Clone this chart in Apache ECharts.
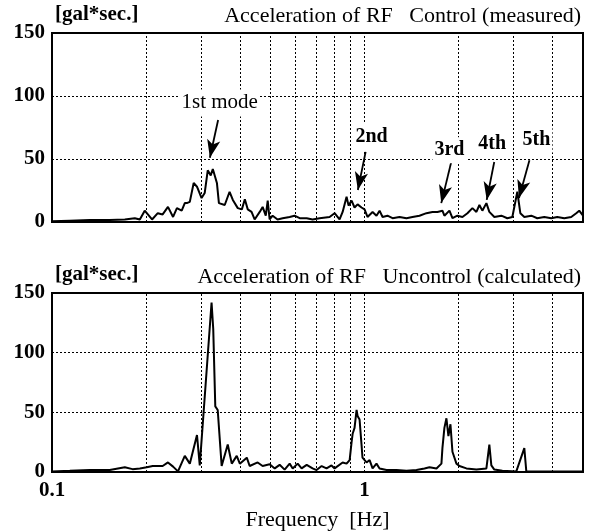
<!DOCTYPE html>
<html><head><meta charset="utf-8">
<script src="https://cdn.jsdelivr.net/npm/echarts/dist/echarts.min.js"></script>
<style>html,body{margin:0;padding:0;background:#fff}#c{width:589px;height:532px}</style>
</head><body><div id="c"></div>
<script>
// ---- data ----
const freqTop = [
  0.100,0.114,0.132,0.153,0.171,0.184,0.191,0.198,0.209,0.218,
  0.226,0.235,0.244,0.251,0.260,0.266,0.270,0.276,0.284,0.291,
  0.301,0.308,0.315,0.322,0.327,0.337,0.342,0.357,0.370,0.379,
  0.393,0.405,0.414,0.423,0.435,0.445,0.462,0.472,0.483,0.490,
  0.497,0.508,0.527,0.547,0.576,0.597,0.620,0.653,0.682,0.718,
  0.773,0.802,0.832,0.851,0.876,0.889,0.909,0.929,0.950,0.978,
  1.000,1.022,1.061,1.092,1.117,1.142,1.184,1.229,1.294,1.362,
  1.423,1.499,1.578,1.649,1.711,1.775,1.801,1.869,1.911,1.982,
  2.057,2.134,2.214,2.280,2.331,2.382,2.454,2.508,2.602,2.740,
  2.863,2.971,3.082,3.151,3.245,3.416,3.570,3.759,3.958,4.136,
  4.355,4.585,4.757,4.863,5.000
];
const accTop = [
  0.5,1,1.5,1.5,2,3,2,9,2,7,
  6,12,4,11,9,15,15,16,31,28,
  19,23,41,37,42,31,15,13.5,24,17.5,
  11,10,18,10,8,2,8,12,5,17,
  2,5,2,3,4,5,3,3,2,3,
  4,7,2,8,20,13,17,11.5,14,11.5,
  10,4,8,5,9,4,5,3,4,3,
  4,5,7,8,8,9,5,9,3,5,
  4,7,11,8,13.5,9,15,8,4,5,
  3,4,24,7,4,5,3,4,3,4,
  3,4,7,9,5
];
const freqBottom = [
  0.100,0.114,0.132,0.153,0.171,0.181,0.191,0.201,0.210,0.226,
  0.235,0.244,0.253,0.266,0.276,0.291,0.297,0.324,0.328,0.333,
  0.339,0.349,0.365,0.376,0.390,0.399,0.420,0.429,0.455,0.472,
  0.497,0.516,0.535,0.555,0.576,0.589,0.611,0.629,0.653,0.682,
  0.702,0.729,0.756,0.784,0.802,0.851,0.876,0.896,0.909,0.916,
  0.929,0.943,0.950,0.964,0.978,0.985,1.015,1.038,1.061,1.092,
  1.117,1.176,1.265,1.362,1.466,1.555,1.613,1.699,1.762,1.775,
  1.801,1.828,1.855,1.883,1.911,1.968,2.012,2.118,2.280,2.454,
  2.508,2.545,2.602,2.760,3.059,3.245,3.293,3.544,3.987,4.757,
  5.000
];
const accBottom = [
  0.5,1,1.6,1.6,4,2.4,3,4,5,5,
  8,4.5,0.5,13.5,7,31,5.5,142,120,55,
  52,5,23,7,13.5,7,12,5,8,5,
  6.5,3,6,2,7,3,7,3,6,3,
  1.6,5,3,5.5,3,8,7,10,25,32,
  37,52,47,44,23,12,8,10,3,7,
  3,1.6,1.6,1,1.6,3,4,3,7,20,
  37,45,30,40,17,7,5,3,2,3,
  23,5.5,2,1,0.5,20,0.5,0.5,0.5,0.5,
  0.5
];
const gridFreqs = [0.2,0.3,0.4,0.5,0.6,0.7,0.8,0.9,1,2,3,4];
const yTicks = [0,50,100,150];
const annotLabels = ['1st mode','2nd','3rd','4th','5th'];
const annotLabelAt = [[0.344,94.5],[1.053,67.5],[1.869,57],[2.56,62],[3.55,65]];
const arrowFrom = [[0.340,81],[1.008,55.6],[1.90,49],[2.60,47.6],[3.37,49]];
const arrowTo = [[0.320,51],[0.952,25.4],[1.76,15],[2.46,17.5],[3.12,19]];
const titleUnit = '[gal*sec.]';
const titleTop = 'Acceleration of RF   Control (measured)';
const titleBottom = 'Acceleration of RF   Uncontrol (calculated)';
const xName = 'Frequency  [Hz]';

// ---- chart ----
const SERIF = '"Liberation Serif","Times New Roman",serif';
const chart = echarts.init(document.getElementById('c'), null, {renderer:'canvas'});

const pairs = (fs, vs) => fs.map((f, i) => [f, vs[i]]);
const gridLineItems = gridFreqs.map(f => ({xAxis: f, symbol:'none', lineStyle:{type:[2,2], color:'#000', width:1}}));
const arrowItems = arrowFrom.map((a, i) => [
  {coord: a, symbol:'none', lineStyle:{type:'solid', color:'#000', width:1.8}},
  {coord: arrowTo[i], symbol:'arrow', symbolSize:[10,18]}
]);

function yAxis(gi){
  return {
    type:'value', gridIndex:gi, min:0, max:150, interval:50,
    axisLine:{show:false}, axisTick:{show:false},
    axisLabel:{fontFamily:SERIF, fontSize:21, fontWeight:'bold', color:'#000', margin:7,
      formatter: v => yTicks.includes(v) ? String(v) : ''},
    splitLine:{show:true, lineStyle:{type:[2,2], color:'#000', width:1}}
  };
}
function xAxis(gi, labels){
  return {
    type:'log', logBase:10, gridIndex:gi, min:0.1, max:5,
    axisLine:{show:false}, axisTick:{show:false}, splitLine:{show:false},
    axisLabel:{show:labels, fontFamily:SERIF, fontSize:21, fontWeight:'bold', color:'#000', margin:8,
      showMaxLabel:false, formatter: v => String(parseFloat(Number(v).toPrecision(6)))},
    name: labels ? xName : '', nameLocation:'middle', nameGap:37,
    nameTextStyle:{fontFamily:SERIF, fontSize:22, fontWeight:'normal', color:'#000'}
  };
}
const titleStyle = {fontFamily:SERIF, fontSize:22, fontWeight:'normal', color:'#000'};
const unitStyle = {fontFamily:SERIF, fontSize:21, fontWeight:'bold', color:'#000'};

chart.setOption({
  animation:false,
  backgroundColor:'#fff',
  title:[
    {text:titleUnit, left:55, top:4, textStyle:unitStyle, padding:0},
    {text:titleTop, right:8, top:5, textStyle:titleStyle, padding:0},
    {text:titleUnit, left:55, top:264, textStyle:unitStyle, padding:0},
    {text:titleBottom, right:8, top:266, textStyle:titleStyle, padding:0}
  ],
  grid:[
    {left:52, top:33, width:531, height:189, show:true, borderColor:'#000', borderWidth:2, backgroundColor:'transparent'},
    {left:52, top:293, width:531, height:189, show:true, borderColor:'#000', borderWidth:2, backgroundColor:'transparent'}
  ],
  xAxis:[xAxis(0,false), xAxis(1,true)],
  yAxis:[yAxis(0), yAxis(1)],
  series:[
    {
      type:'line', xAxisIndex:0, yAxisIndex:0, data:pairs(freqTop, accTop),
      symbol:'none', lineStyle:{color:'#000', width:2}, silent:true,
      markLine:{silent:true, symbol:['none','none'], label:{show:false},
        data: gridLineItems.concat(arrowItems)},
      markPoint:{silent:true, symbol:'rect', symbolSize:0,
        label:{show:true, position:'inside', color:'#000', backgroundColor:'#fff', padding:[3,2],
          fontFamily:SERIF, fontSize:20, fontWeight:'bold', formatter:p => p.name},
        data: annotLabels.map((t, i) => ({name:t, coord:annotLabelAt[i],
          label: i === 0 ? {fontWeight:'normal', fontSize:21} : {}}))}
    },
    {
      type:'line', xAxisIndex:1, yAxisIndex:1, data:pairs(freqBottom, accBottom),
      symbol:'none', lineStyle:{color:'#000', width:2}, silent:true,
      markLine:{silent:true, symbol:['none','none'], label:{show:false}, data: gridLineItems}
    }
  ]
});
</script></body></html>
